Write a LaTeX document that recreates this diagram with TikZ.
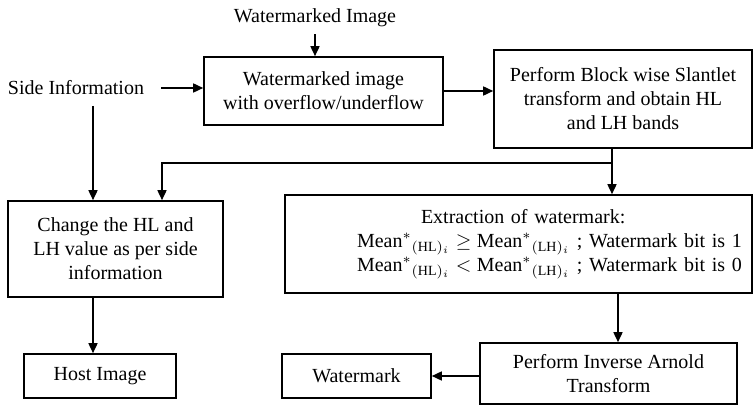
\documentclass[tikz,border=0pt]{standalone}
\usepackage{amsmath}
\usepackage{amssymb}
\usepackage{fontspec}
\setmainfont{Liberation Serif}
\usetikzlibrary{positioning}
\usetikzlibrary{arrows.meta}

\begin{document}
\begin{tikzpicture}[x=0.5pt,y=-0.5pt,
  box/.style={draw, line width=0.8pt, align=center, inner sep=0pt},
  flow/.style={line width=0.8pt, -{Triangle[length=5pt,width=4.5pt]}},
  link/.style={line width=0.8pt}]
\useasboundingbox (0,0) rectangle (754,405);

% inputs
\node (wmimg) at (315,18) {Watermarked Image};
\node (side) at (76,88) {Side Information};

% boxes
\node[box, minimum width=119.5pt, minimum height=34pt] (overflow) at (323.5,91) {Watermarked image\\with overflow/underflow};
\node[box, minimum width=129pt, minimum height=49pt] (slantlet) at (623,99) {Perform Block wise Slantlet\\transform and obtain HL\\and LH bands};
\node[box, minimum width=107.5pt, minimum height=48pt] (change) at (115.5,249) {Change the HL and\\LH value as per side\\information};
\node[box, minimum width=76pt, minimum height=22pt] (host) at (100,376) {Host Image};
\node[box, text width=233.5pt, minimum height=49pt, align=left] (extract) at (518.5,244) {\hspace*{68pt}Extraction of watermark:\\
\hspace*{36pt}$\text{Mean}^{*}{}_{(\text{HL})_i} \geq \text{Mean}^{*}{}_{(\text{LH})_i}$\ ; Watermark bit is 1\\
\hspace*{36pt}$\text{Mean}^{*}{}_{(\text{HL})_i} < \text{Mean}^{*}{}_{(\text{LH})_i}$\ ; Watermark bit is 0};
\node[box, minimum width=128.5pt, minimum height=30.5pt] (arnold) at (608.5,373.5) {Perform Inverse Arnold\\Transform};
\node[box, minimum width=74.5pt, minimum height=22pt] (wmark) at (356.5,376) {Watermark};

\coordinate (sidedrop) at (93,106);
\coordinate (split) at (612,163);
\coordinate (join) at (162,163);
\coordinate (down) at (618,300);

% connectors
\draw[flow] (wmimg.south) -- (wmimg.south |- overflow.north);
\draw[flow, shorten <=5pt] (side.east) -- (side.east -| overflow.west);
\draw[flow] (overflow.east) -- (overflow.east -| slantlet.west);
\draw[flow] (sidedrop) -- (sidedrop |- change.north);
\draw[link] (slantlet.south -| split) -- (split);
\draw[flow] (split) -- (split |- extract.north);
\draw[flow] (split) -- (join) -- (join |- change.north);
\draw[flow] (change.south -| sidedrop) -- (host.north -| sidedrop);
\draw[flow] (extract.south -| down) -- (arnold.north -| down);
\draw[flow] (arnold.west |- wmark.east) -- (wmark.east);
\end{tikzpicture}
\end{document}
